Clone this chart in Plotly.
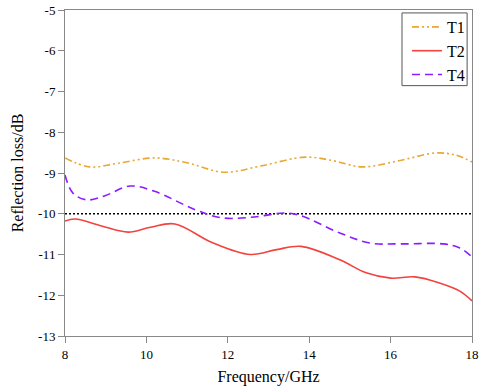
import plotly.graph_objects as go

# frequency (GHz) / reflection loss (dB)
t1_freq = [8.0, 8.6, 9.3, 10.2, 11.0, 11.9, 12.8, 13.9, 14.6, 15.3, 16.2, 17.1, 17.6, 18.0]
t1_loss = [-8.63, -8.85, -8.76, -8.63, -8.75, -8.98, -8.83, -8.61, -8.70, -8.85, -8.70, -8.51, -8.56, -8.73]

t2_freq = [8.0, 8.25, 8.9, 9.55, 10.1, 10.7, 11.6, 12.55, 13.2, 13.8, 14.75, 15.4, 16.0, 16.6, 17.2, 17.7, 18.0]
t2_loss = [-10.18, -10.13, -10.30, -10.45, -10.33, -10.25, -10.70, -11.00, -10.88, -10.80, -11.13, -11.45, -11.58, -11.55, -11.70, -11.90, -12.14]

t4_freq = [8.0, 8.2, 8.55, 9.0, 9.6, 10.2, 11.2, 11.85, 12.65, 13.4, 13.8, 14.75, 15.5, 16.25, 17.3, 17.7, 18.0]
t4_loss = [-9.05, -9.50, -9.66, -9.55, -9.32, -9.45, -9.90, -10.10, -10.08, -9.98, -10.05, -10.47, -10.72, -10.74, -10.74, -10.84, -11.06]

ref_freq = [8, 18]
ref_loss = [-10, -10]

y_ticks = [-13, -12, -11, -10, -9, -8, -7, -6, -5]
y_labels = ['-13', '-12', '-11', '-10', '-9', '-8', '-7', '-6', '-5']

font = "Liberation Serif, Times New Roman, serif"

fig = go.Figure()
fig.add_trace(go.Scatter(x=ref_freq, y=ref_loss, mode='lines', showlegend=False,
                         line=dict(color='black', width=1.6, dash='2px,2px')))
fig.add_trace(go.Scatter(x=t1_freq, y=t1_loss, mode='lines', name='T1',
                         line=dict(color='#E8A832', width=1.6, shape='spline',
                                   dash='7px,3px,2px,3px,2px,3px')))
fig.add_trace(go.Scatter(x=t2_freq, y=t2_loss, mode='lines', name='T2',
                         line=dict(color='#F2433E', width=1.6, shape='spline')))
fig.add_trace(go.Scatter(x=t4_freq, y=t4_loss, mode='lines', name='T4',
                         line=dict(color='#8A1CFF', width=1.6, shape='spline', dash='8px,5px')))

# legend frame drawn as a shape so it hugs the entries
fig.add_shape(type='rect', xref='paper', yref='paper',
              x0=0.828, x1=0.988, y0=0.768, y1=0.991,
              line=dict(color='#555', width=1), fillcolor='rgba(0,0,0,0)')

fig.update_layout(
    width=480, height=390,
    margin=dict(l=65, r=8, t=10, b=54),
    plot_bgcolor='white', paper_bgcolor='white',
    font=dict(family=font, size=13, color='black'),
    showlegend=True,
    legend=dict(x=0.995, y=1.0, xanchor='right', yanchor='top',
                borderwidth=0, bgcolor='rgba(0,0,0,0)',
                font=dict(family=font, size=16), tracegroupgap=0, itemwidth=30),
    xaxis=dict(range=[8, 18], dtick=2, showgrid=False, zeroline=False,
               showline=True, linecolor='#888', mirror=True, automargin=False,
               ticks='outside', ticklen=6, tickcolor='#888',
               tickfont=dict(family=font, size=13),
               title=dict(text='Frequency/GHz', font=dict(family=font, size=16), standoff=10)),
    yaxis=dict(range=[-13, -5], tickvals=y_ticks, ticktext=y_labels,
               showgrid=False, zeroline=False, automargin=False,
               showline=True, linecolor='#888', mirror=True,
               ticks='outside', ticklen=6, tickcolor='#888',
               tickfont=dict(family=font, size=13),
               title=dict(text='Reflection loss/dB', font=dict(family=font, size=16), standoff=10)),
)

fig.write_html("out.html", config={'displayModeBar': False},
               post_script="document.body.style.margin='0';")
